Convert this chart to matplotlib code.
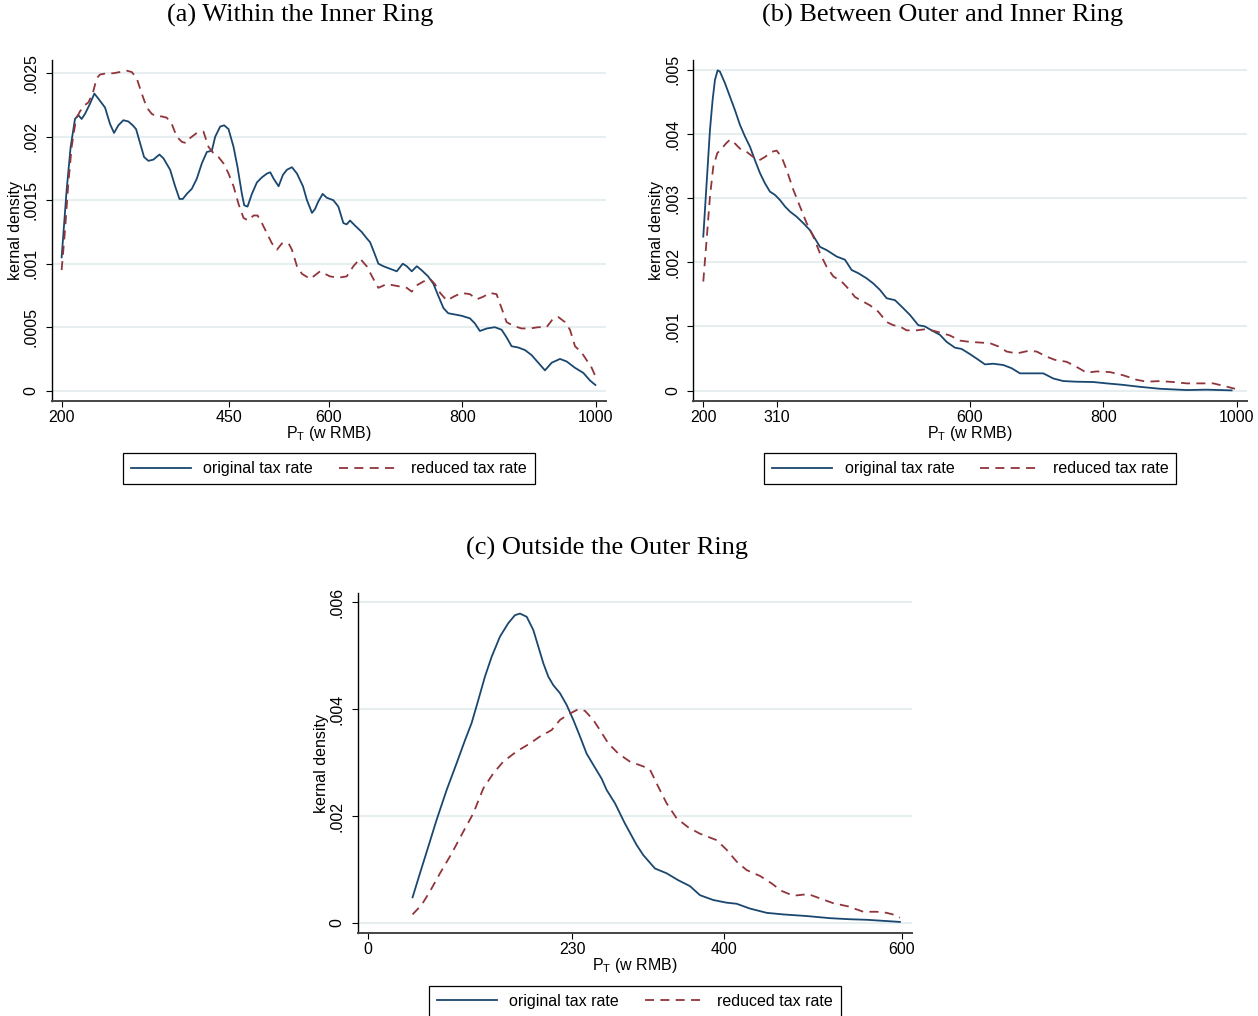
import matplotlib
matplotlib.use("Agg")
import matplotlib.pyplot as plt

plt.rcParams['font.family'] = ['Liberation Sans', 'DejaVu Sans']
plt.rcParams['mathtext.fontset'] = 'custom'
plt.rcParams['mathtext.rm'] = 'Liberation Sans'

BLUE = '#1a476f'
RED = '#90353b'
GRID = '#e6eef0'

# ---- panel (a): within the inner ring ----
a_orig_x = [200, 207.5, 213.5, 220, 225, 230, 235, 242.5, 249, 255, 265, 272.5, 278.5, 285, 292.5,
            300, 306.5, 311.5, 317.5, 323.5, 330, 337.5, 346.5, 352.5, 362.5, 370, 376.5, 381.5,
            387.5, 395, 402.5, 410, 417.5, 425, 430, 437.5, 443.5, 450, 457.5, 463.5, 470, 473.5,
            478.5, 485, 492.5, 500, 507.5, 512.5, 517.5, 525, 531.5, 537.5, 545, 552.5, 561.5,
            567.5, 575, 579.5, 584.5, 591, 597, 607, 614.5, 622, 627, 632, 639.5, 649.5, 657,
            662, 668, 674.5, 682, 692, 702, 711, 717, 724.5, 732, 739, 749, 757, 764, 772, 779,
            789, 799, 811.5, 819, 826.5, 837, 849, 859, 866.5, 874, 884, 894, 904, 914, 924,
            934, 946.5, 956.5, 969, 981.5, 991.5, 999.5]
a_orig_y = [0.00105, 0.00158, 0.00192, 0.00214, 0.00217, 0.00214, 0.00218, 0.00226, 0.00234,
            0.00230, 0.00223, 0.00210, 0.00203, 0.00209, 0.00213, 0.00212, 0.00209, 0.00206,
            0.00195, 0.00184, 0.00181, 0.00182, 0.00186, 0.00183, 0.00174, 0.00161, 0.00151,
            0.00151, 0.00155, 0.00159, 0.00167, 0.00179, 0.00188, 0.00189, 0.00200, 0.00208,
            0.00209, 0.00206, 0.00192, 0.00176, 0.00155, 0.00146, 0.00145, 0.00155, 0.00164,
            0.00168, 0.00171, 0.00172, 0.00167, 0.00161, 0.00170, 0.00174, 0.00176, 0.00171,
            0.00161, 0.00150, 0.00140, 0.00143, 0.00149, 0.00155, 0.00152, 0.00150, 0.00145,
            0.00132, 0.00131, 0.00134, 0.00130, 0.00125, 0.00120, 0.00117, 0.00109, 0.00100,
            0.00098, 0.00096, 0.00094, 0.00100, 0.00098, 0.00094, 0.00098, 0.00095, 0.00090,
            0.00084, 0.00075, 0.00065, 0.00061, 0.00060, 0.00059, 0.00057, 0.00053, 0.00047,
            0.00049, 0.00050, 0.00048, 0.00042, 0.00035, 0.00034, 0.00032, 0.00028, 0.00022,
            0.00016, 0.00022, 0.00025, 0.00023, 0.00018, 0.00014, 0.00008, 0.000045]
a_red_x = [200, 205, 210, 215, 221.5, 227.5, 235, 240, 246.5, 252.5, 257.5, 267.5, 277.5, 287.5,
           297.5, 305, 312.5, 320, 327.5, 335, 342.5, 350, 357.5, 365, 372.5, 380, 386.5, 392.5,
           402.5, 412.5, 420, 427.5, 435, 442.5, 450, 457.5, 465, 472.5, 480, 487.5, 493.5, 500,
           507.5, 515, 522.5, 530, 540, 545, 552.5, 560, 572.5, 587, 602, 614.5, 627, 637, 647,
           657, 667, 674.5, 687, 697, 707, 717, 724.5, 732, 742, 752, 759, 767, 777, 787, 799,
           811.5, 822, 831.5, 841.5, 851.5, 859, 866.5, 877, 889, 901.5, 914, 926.5, 936.5,
           944, 954, 961.5, 969, 979, 986.5, 994, 999]
a_red_y = [0.00095, 0.00126, 0.00163, 0.00192, 0.00214, 0.00220, 0.00225, 0.00227, 0.00234,
           0.00246, 0.00249, 0.00250, 0.00250, 0.00251, 0.00252, 0.00251, 0.00246, 0.00234,
           0.00223, 0.00218, 0.00216, 0.00216, 0.00215, 0.00210, 0.00200, 0.00196, 0.00195,
           0.00199, 0.00203, 0.00204, 0.00192, 0.00187, 0.00184, 0.00179, 0.00171, 0.00161,
           0.00147, 0.00136, 0.00134, 0.00138, 0.00138, 0.00132, 0.00124, 0.00116, 0.00111,
           0.00116, 0.00116, 0.00111, 0.00098, 0.00092, 0.00088, 0.00094, 0.00090, 0.00089,
           0.00090, 0.00098, 0.00104, 0.00098, 0.00088, 0.00081, 0.00084, 0.00083, 0.00082,
           0.00081, 0.00078, 0.00083, 0.00086, 0.00088, 0.00084, 0.00077, 0.00071, 0.00074,
           0.00077, 0.00076, 0.00072, 0.00074, 0.00077, 0.00076, 0.00065, 0.00054, 0.00051,
           0.00049, 0.00049, 0.00050, 0.00050, 0.00057, 0.00058, 0.00054, 0.00048, 0.00035,
           0.00030, 0.00024, 0.00018, 0.00012]
a_xticks = [200, 450, 600, 800, 1000]
a_yticks = [0, 0.0005, 0.001, 0.0015, 0.002, 0.0025]
a_ylabels = ['0', '.0005', '.001', '.0015', '.002', '.0025']

# ---- panel (b): between outer and inner ring ----
b_orig_x = [200, 205, 210, 214, 217.5, 221.5, 225, 232.5, 240, 247.5, 255, 262.5, 270, 277.5,
            285, 292.5, 300, 307.5, 315, 322.5, 330, 340, 350, 360, 367.5, 375, 385, 400, 412.5,
            422.5, 432.5, 445, 455, 465, 475, 487.5, 497.5, 510, 522.5, 532.5, 542.5, 555, 565,
            577.5, 587.5, 600, 610, 622.5, 635, 650, 662.5, 675, 692.5, 710, 725, 740, 760, 785,
            805, 827.5, 855, 885, 925, 955, 992.5]
b_orig_y = [0.00240, 0.00323, 0.00406, 0.00453, 0.00484, 0.00499, 0.00497, 0.00479, 0.00458,
            0.00437, 0.00414, 0.00396, 0.00380, 0.00359, 0.00339, 0.00323, 0.00310, 0.00305,
            0.00297, 0.00287, 0.00279, 0.00271, 0.00261, 0.00250, 0.00237, 0.00224, 0.00219,
            0.00209, 0.00204, 0.00188, 0.00183, 0.00175, 0.00167, 0.00157, 0.00144, 0.00141,
            0.00131, 0.00118, 0.00102, 0.00100, 0.00094, 0.00087, 0.00076, 0.00067, 0.00065,
            0.00057, 0.00050, 0.00041, 0.00042, 0.00040, 0.00035, 0.00027, 0.00027, 0.00027,
            0.00019, 0.00015, 0.00014, 0.000135, 0.000114, 0.000093, 0.00006, 0.00003, 0.00001,
            0.000016, 0.000005]
b_red_x = [200, 205, 210, 215, 221, 227.5, 234, 240, 247.5, 255, 265, 275, 284, 292.5, 302.5,
           310, 317.5, 325, 335, 345, 355, 365, 375, 385, 395, 407.5, 417.5, 427.5, 437.5, 450,
           462.5, 475, 485, 495, 505, 520, 535, 550, 570, 585, 600, 615, 630, 642.5, 655, 670,
           687.5, 700, 715, 727.5, 745, 760, 775, 790, 810, 830, 850, 865, 885, 905, 925, 945,
           965, 982.5, 997.5]
b_red_y = [0.00170, 0.00235, 0.00302, 0.00349, 0.00370, 0.00377, 0.00385, 0.00391, 0.00385,
           0.00377, 0.00372, 0.00364, 0.00359, 0.00364, 0.00372, 0.00374, 0.00364, 0.00344,
           0.00313, 0.00287, 0.00261, 0.00240, 0.00214, 0.00193, 0.00178, 0.00170, 0.00159,
           0.00146, 0.00140, 0.00133, 0.00123, 0.00107, 0.00102, 0.00100, 0.00094, 0.00094,
           0.00096, 0.00092, 0.00086, 0.00078, 0.00076, 0.00075, 0.00074, 0.00069, 0.00061,
           0.00058, 0.00062, 0.00061, 0.00053, 0.00048, 0.00045, 0.00037, 0.00028, 0.00030,
           0.00029, 0.00024, 0.00017, 0.00014, 0.00015, 0.000135, 0.000114, 0.000114,
           0.000114, 0.00007, 0.00003]
b_xticks = [200, 310, 600, 800, 1000]
b_yticks = [0, 0.001, 0.002, 0.003, 0.004, 0.005]
b_ylabels = ['0', '.001', '.002', '.003', '.004', '.005']

# ---- panel (c): outside the outer ring ----
c_orig_x = [50.5, 58.8, 68.2, 77.5, 88.8, 100, 109.4, 116.8, 124.3, 131.8, 139.3, 148.7, 158,
            165.5, 171.2, 178.7, 186.2, 191.8, 197.4, 203, 208.6, 216.1, 223.6, 231.1, 238.6,
            246, 253.5, 262.9, 268.5, 277.9, 289.1, 302.2, 309.7, 322.8, 335.9, 349, 362.1,
            373.4, 388.3, 403.3, 414.5, 429.5, 448.3, 467, 493.2, 519.4, 541.9, 560.6, 579.3,
            598]
c_orig_y = [0.00048, 0.00093, 0.00143, 0.00193, 0.00249, 0.00299, 0.00342, 0.00374, 0.00417,
            0.00461, 0.00498, 0.00536, 0.00561, 0.00576, 0.00579, 0.00573, 0.00548, 0.00517,
            0.00486, 0.00461, 0.00445, 0.00430, 0.00408, 0.00380, 0.00349, 0.00317, 0.00296,
            0.00270, 0.00249, 0.00224, 0.00186, 0.00146, 0.00127, 0.00102, 0.00093, 0.00080,
            0.00069, 0.00052, 0.00043, 0.00038, 0.00036, 0.00027, 0.00019, 0.00016, 0.00013,
            0.00009, 0.00007, 0.00006, 0.00004, 0.00002]
c_red_x = [50.5, 60.7, 70, 81.3, 94.4, 107.5, 118.7, 130, 141.2, 152.4, 167.4, 182.4, 193.6,
           206.7, 216.1, 227.3, 236.7, 244.2, 253.5, 261, 270.4, 281.6, 294.7, 309.7, 317.2,
           326.5, 335.9, 347.1, 360.2, 373.4, 392.1, 403.3, 414.5, 425.8, 440.8, 453.9, 465.1,
           478.2, 495.1, 508.2, 523.2, 540, 556.9, 571.9, 583.1, 592.4, 598]
c_red_y = [0.00016, 0.00034, 0.00059, 0.00093, 0.00130, 0.00171, 0.00205, 0.00252, 0.00280,
           0.00302, 0.00321, 0.00336, 0.00349, 0.00361, 0.00380, 0.00392, 0.00400, 0.00397,
           0.00380, 0.00361, 0.00336, 0.00317, 0.00302, 0.00293, 0.00287, 0.00255, 0.00224,
           0.00196, 0.00179, 0.00167, 0.00155, 0.00137, 0.00115, 0.00099, 0.00088, 0.00074,
           0.00060, 0.00051, 0.00054, 0.00046, 0.00037, 0.00031, 0.00021, 0.00021, 0.00019,
           0.00015, 0.00010]
c_xticks = [0, 230, 400, 600]
c_yticks = [0, 0.002, 0.004, 0.006]
c_ylabels = ['0', '.002', '.004', '.006']

titles = ['(a) Within the Inner Ring', '(b) Between Outer and Inner Ring', '(c) Outside the Outer Ring']


def draw_panel(ax, ox, oy, rx, ry, xticks, yticks, ylabels, xlim, ylim):
    ax.plot(ox, oy, color=BLUE, lw=1.3, label='original tax rate')
    ax.plot(rx, ry, color=RED, lw=1.3, dashes=(5, 3.5), label='reduced tax rate')
    ax.set_xlim(*xlim)
    ax.set_ylim(*ylim)
    ax.set_xticks(xticks)
    ax.set_yticks(yticks)
    ax.set_yticklabels(ylabels, rotation=90, va='center')
    for y in yticks:
        ax.axhline(y, color=GRID, lw=1.5, zorder=0)
    for s in ['top', 'right']:
        ax.spines[s].set_visible(False)
    ax.spines['left'].set_linewidth(1.0)
    ax.spines['bottom'].set_linewidth(1.4)
    ax.spines['bottom'].set_color('#444444')
    ax.tick_params(axis='both', direction='out', length=4.5, width=0.8, labelsize=11.5)
    ax.tick_params(axis='x', pad=2)
    ax.tick_params(axis='y', pad=5)
    ax.set_xlabel(r'P$_{\mathrm{T}}$ (w RMB)', fontsize=11.5)
    ax.xaxis.set_label_coords(0.5, -0.095)
    ax.xaxis.label.set_va('center')
    ax.set_ylabel('kernal density', fontsize=11.5)
    ax.yaxis.set_label_coords(-0.052, 0.5)
    ax.legend(loc='upper center', bbox_to_anchor=(0.5, -0.154), ncol=2, fontsize=11.5,
              frameon=True, fancybox=False, edgecolor='black', framealpha=1,
              handlelength=3.75, handletextpad=0.8, columnspacing=1.6, borderpad=0.5,
              borderaxespad=0)
    ax.get_legend().get_frame().set_linewidth(0.9)


fig = plt.figure(figsize=(12.58, 10.16), dpi=100)
ax_a = fig.add_axes([0.0413, 0.6056, 0.4404, 0.3353])
ax_b = fig.add_axes([0.5511, 0.6056, 0.4404, 0.3353])
ax_c = fig.add_axes([0.2843, 0.0814, 0.4409, 0.3352])

draw_panel(ax_a, a_orig_x, a_orig_y, a_red_x, a_red_y, a_xticks, a_yticks, a_ylabels,
           (185.5, 1015.4), (-0.000079, 0.002604))
draw_panel(ax_b, b_orig_x, b_orig_y, b_red_x, b_red_y, b_xticks, b_yticks, b_ylabels,
           (185, 1016), (-0.000156, 0.00515))
draw_panel(ax_c, c_orig_x, c_orig_y, c_red_x, c_red_y, c_xticks, c_yticks, c_ylabels,
           (-11.2, 611.9), (-0.000193, 0.00618))

fig.text(0.2389, 0.9852, titles[0], ha='center', va='center', fontsize=19, family='Liberation Serif')
fig.text(0.7496, 0.9852, titles[1], ha='center', va='center', fontsize=19, family='Liberation Serif')
fig.text(0.4829, 0.4606, titles[2], ha='center', va='center', fontsize=19, family='Liberation Serif')

fig.savefig('out.png', dpi=100)
